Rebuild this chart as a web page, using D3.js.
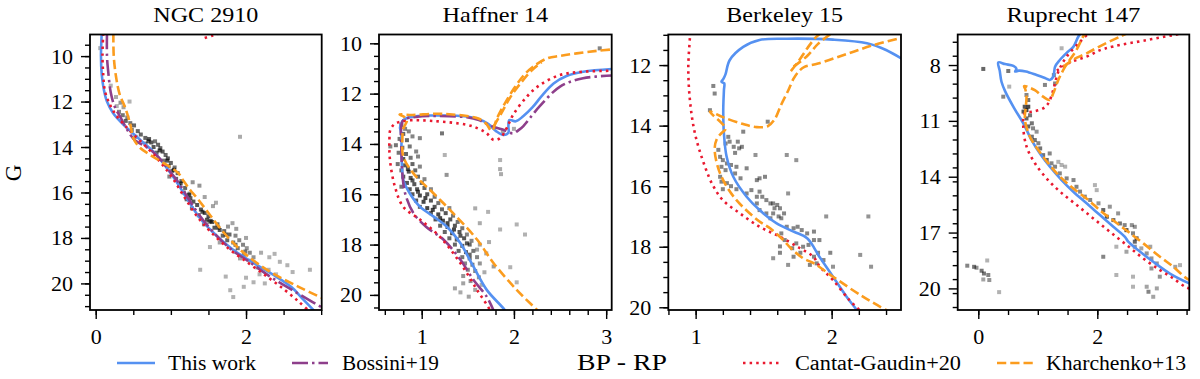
<!DOCTYPE html>
<html><head><meta charset="utf-8">
<script src="https://cdn.jsdelivr.net/npm/d3@7"></script>
</head><body style="margin:0;background:#fff">
<svg id="chart" width="1200" height="379" style="display:block"></svg>
<script>
// ---------------- DATA ----------------
const clusterNames = ["NGC 2910", "Haffner 14", "Berkeley 15", "Ruprecht 147"];
const seriesNames = ["This work", "Bossini+19", "Cantat-Gaudin+20", "Kharchenko+13"];

const xTicks_ngc2910 = [0, 2];
const yTicks_ngc2910 = [10, 12, 14, 16, 18, 20];
const xTicks_haffner14 = [1, 2, 3];
const yTicks_haffner14 = [10, 12, 14, 16, 18, 20];
const xTicks_berkeley15 = [1, 2];
const yTicks_berkeley15 = [12, 14, 16, 18, 20];
const xTicks_ruprecht147 = [0, 2];
const yTicks_ruprecht147 = [8, 11, 14, 17, 20];

// stars: [BP-RP, G, membership probability]
const stars_ngc2910 = [
[0.06,9.65,0.3],[0.20,11.3,0.3],[0.27,11.8,0.35],[0.33,12.05,0.5],[0.37,12.25,0.4],[0.31,12.45,0.6],[0.36,12.6,0.7],[0.42,12.7,0.6],[0.40,12.85,0.8],[0.46,12.95,0.7],[0.51,13.05,0.8],[0.48,13.25,0.7],[0.56,13.3,0.8],[0.60,13.45,0.8],[0.53,13.55,0.6],[0.66,13.6,0.8],[0.71,13.65,0.9],[0.74,13.8,0.9],[0.79,13.75,0.7],[0.83,13.9,0.8],[0.66,13.85,0.6],[0.77,14.0,0.9],[0.86,14.05,0.8],[0.89,14.2,0.9],[0.81,14.25,0.8],[0.93,14.35,0.8],[0.96,14.5,0.9],[0.90,14.6,0.7],[1.00,14.7,0.8],[0.97,14.85,0.8],[1.05,14.9,0.7],[1.02,15.05,0.8],[1.09,15.15,0.8],[0.98,15.3,0.6],[1.07,15.4,0.8],[1.14,15.5,0.8],[1.11,15.7,0.8],[1.19,15.8,0.8],[1.29,15.55,0.5],[1.38,15.7,0.5],[1.17,16.0,0.8],[1.24,16.1,0.9],[1.21,16.3,0.8],[1.30,16.4,0.9],[1.35,16.55,0.9],[1.28,16.7,0.7],[1.40,16.75,0.9],[1.45,16.9,0.9],[1.37,17.0,0.8],[1.50,17.05,0.9],[1.56,16.6,0.4],[1.60,16.45,0.35],[1.48,17.2,0.9],[1.55,17.3,0.9],[1.44,17.4,0.6],[1.62,17.4,0.8],[1.58,17.55,0.9],[1.65,17.65,0.9],[1.71,17.7,0.8],[1.76,17.5,0.5],[1.82,17.35,0.4],[1.87,17.6,0.45],[1.69,17.9,0.8],[1.78,17.85,0.8],[1.86,17.9,0.6],[1.75,18.1,0.8],[1.83,18.2,0.7],[1.91,18.1,0.6],[1.96,18.3,0.6],[1.89,18.45,0.7],[2.01,18.45,0.5],[2.05,18.65,0.6],[1.97,18.75,0.6],[2.10,18.85,0.5],[1.92,18.9,0.4],[2.05,19.0,0.45],[2.20,18.65,0.35],[2.31,18.85,0.3],[2.38,18.7,0.3],[2.45,19.05,0.3],[2.55,19.2,0.3],[2.30,19.4,0.3],[2.18,19.6,0.3],[2.62,19.5,0.3],[2.85,19.4,0.3],[1.39,19.4,0.3],[1.52,18.4,0.3],[1.73,19.7,0.3],[1.79,20.3,0.3],[1.83,20.6,0.3],[1.97,20.15,0.3],[2.10,19.95,0.3],[2.25,20.0,0.3],[2.00,19.75,0.3],[1.92,13.55,0.35],[1.25,16.05,0.5],[1.51,17.3,0.5],[1.45,16.2,0.4],[0.45,12.0,0.3],[0.28,12.2,0.3],[2.00,18.0,0.4],[1.85,18.6,0.4],[2.15,19.3,0.3],[2.40,19.6,0.25],[1.65,18.2,0.4],
[0.70,13.75,0.9],[0.85,14.15,0.9],[0.95,14.6,0.9],[1.04,15.0,0.9],[1.13,15.6,0.9],[1.26,16.25,0.9],[1.42,16.85,0.9],[1.53,17.25,0.9],[1.63,17.55,0.9],[1.73,17.85,0.9],[1.86,18.3,0.8],[1.99,18.6,0.7]
];
const stars_haffner14 = [
[0.78,13.25,0.7],[0.82,13.4,0.6],[0.80,13.6,0.8],[0.86,13.5,0.6],[0.76,13.8,0.7],[0.84,13.85,0.8],[0.90,13.7,0.6],[0.98,13.77,0.6],[0.66,14.1,0.6],[0.72,14.05,0.7],[0.79,14.15,0.8],[0.87,14.1,0.7],[0.94,14.3,0.6],[0.75,14.35,0.7],[0.83,14.4,0.8],[0.80,14.6,0.9],[0.88,14.55,0.7],[0.96,14.5,0.6],[0.74,14.8,0.7],[0.82,14.85,0.9],[0.90,14.8,0.8],[0.98,14.9,0.6],[0.78,15.05,0.8],[0.86,15.1,0.9],[0.93,15.05,0.8],[0.80,15.3,0.9],[0.88,15.35,0.9],[0.96,15.3,0.8],[1.03,15.4,0.6],[0.84,15.55,0.9],[0.92,15.6,0.9],[1.00,15.55,0.8],[0.78,15.7,0.7],[0.87,15.8,0.9],[0.95,15.8,0.9],[1.03,15.75,0.8],[1.10,15.8,0.6],[0.90,16.0,0.9],[0.98,16.05,1.0],[1.06,16.0,0.9],[1.14,16.1,0.7],[0.94,16.25,0.9],[1.02,16.3,1.0],[1.10,16.25,0.9],[1.18,16.35,0.7],[0.98,16.5,0.8],[1.06,16.55,1.0],[1.14,16.5,0.9],[1.22,16.6,0.8],[1.30,16.55,0.6],[1.10,16.75,0.9],[1.18,16.8,1.0],[1.26,16.75,0.9],[1.34,16.85,0.7],[1.15,17.0,0.9],[1.23,17.05,1.0],[1.31,17.0,0.9],[1.39,17.1,0.7],[1.20,17.25,0.8],[1.28,17.3,1.0],[1.36,17.25,0.9],[1.44,17.35,0.7],[1.25,17.5,0.8],[1.33,17.55,1.0],[1.41,17.5,0.9],[1.49,17.6,0.6],[1.30,17.75,0.8],[1.38,17.8,0.9],[1.46,17.75,0.9],[1.54,17.85,0.6],[1.36,18.0,0.8],[1.44,18.05,0.9],[1.52,18.0,0.8],[1.40,18.25,0.8],[1.48,18.3,0.9],[1.56,18.25,0.7],[1.44,18.5,0.7],[1.52,18.55,0.8],[1.60,18.5,0.6],[1.47,18.75,0.6],[1.55,18.8,0.7],[1.63,18.75,0.5],[1.50,19.0,0.6],[1.58,19.05,0.6],[1.45,19.25,0.5],[1.62,19.3,0.5],[1.53,19.45,0.5],[1.36,19.74,0.4],[1.45,19.54,0.4],[1.51,20.07,0.4],[1.58,19.8,0.4],[1.65,19.6,0.35],[1.42,19.9,0.35],
[2.93,10.2,0.6],[1.22,13.58,0.7],[1.25,14.44,0.3],[1.27,15.23,0.5],[1.85,14.64,0.3],[1.85,15.0,0.35],[1.86,15.2,0.35],[1.85,17.4,0.3],[2.03,17.2,0.3],[2.12,17.6,0.3],[1.58,16.56,0.35],[1.72,16.7,0.3],[1.63,17.15,0.35],[1.73,17.9,0.35],[1.96,18.9,0.3],[2.03,19.5,0.3],[1.78,18.87,0.45],[1.63,18.0,0.4],[1.70,18.35,0.4],[1.60,18.2,0.4],[1.68,19.1,0.35],[1.88,13.5,0.4],[2.00,13.4,0.35],
[0.85,15.0,0.9],[0.90,15.45,0.9],[0.96,15.9,0.9],[1.04,16.15,1.0],[1.12,16.62,1.0],[1.20,16.95,1.0],[1.28,17.15,1.0],[1.35,17.4,1.0],[1.42,17.65,0.9],[1.49,17.95,0.9],[1.52,18.4,0.8]
];
const stars_berkeley15 = [
[1.13,12.69,0.6],[1.14,12.94,0.6],[1.105,13.49,0.6],[1.53,13.87,0.6],[1.35,14.2,0.6],[1.24,14.37,0.6],[1.25,14.53,0.6],[1.28,14.7,0.6],[1.32,14.75,0.6],[1.29,14.9,0.6],[1.167,14.8,0.6],[1.18,15.03,0.6],[1.20,15.14,0.6],[1.23,15.25,0.6],[1.26,15.3,0.6],[1.30,15.36,0.6],[1.375,15.41,0.6],[1.44,14.97,0.5],[1.67,14.97,0.5],[1.74,15.14,0.5],[1.29,15.58,0.6],[1.33,15.74,0.6],[1.45,15.8,0.6],[1.47,15.74,0.6],[1.51,15.69,0.6],[1.23,15.9,0.6],[1.26,16.0,0.6],[1.30,16.1,0.6],[1.375,16.24,0.6],[1.41,16.13,0.6],[1.45,16.35,0.6],[1.47,16.18,0.6],[1.49,16.35,0.6],[1.52,16.46,0.6],[1.55,16.57,0.6],[1.57,16.57,0.6],[1.60,16.62,0.6],[1.58,16.73,0.6],[1.62,16.73,0.6],[1.57,16.9,0.6],[1.61,17.0,0.6],[1.63,17.06,0.6],[1.65,16.9,0.6],[1.55,17.06,0.6],[1.52,16.9,0.6],[1.47,16.79,0.6],[1.68,16.24,0.5],[1.45,16.57,0.6],[1.67,17.34,0.6],[1.72,17.39,0.6],[1.75,17.34,0.6],[1.78,17.45,0.6],[1.82,17.56,0.6],[1.87,17.5,0.6],[1.91,17.78,0.6],[1.87,17.78,0.6],[1.83,17.94,0.6],[1.79,18.0,0.6],[1.74,17.89,0.6],[1.71,18.05,0.6],[1.72,18.33,0.6],[1.77,18.2,0.6],[1.63,17.56,0.6],[1.655,17.78,0.6],[1.62,17.99,0.6],[1.57,18.38,0.5],[1.68,18.6,0.5],[1.84,18.6,0.6],[1.87,18.33,0.6],[1.90,18.2,0.6],[1.94,18.44,0.6],[1.99,18.2,0.6],[2.01,18.66,0.5],[1.96,17.0,0.5],[2.21,18.27,0.5],[2.27,17.0,0.5],[2.29,18.66,0.5],[1.62,18.2,0.6],[1.89,18.55,0.6],[1.18,15.69,0.6],[1.19,15.85,0.6],[1.20,16.1,0.6],[1.19,15.36,0.6],[1.22,15.47,0.6],[1.31,14.53,0.6],[1.34,14.7,0.6],[1.22,14.59,0.6]
];
const stars_ruprecht147 = [
[0.084,8.21,0.8],[0.504,8.32,0.7],[0.52,9.16,0.3],[0.42,9.7,0.6],[1.12,9.07,0.6],[1.29,8.99,0.6],[1.27,8.54,0.6],[1.40,7.1,0.3],[0.81,9.61,0.6],[0.84,9.88,0.7],[0.78,10.24,0.9],[0.84,10.24,1.0],[0.81,10.42,1.0],[0.76,10.5,0.9],[0.87,10.7,0.7],[0.81,10.87,0.8],[0.90,11.13,0.7],[0.84,11.3,0.8],[0.92,11.4,0.6],[0.98,11.58,0.5],[0.90,11.85,0.7],[0.95,12.03,0.7],[1.01,12.2,0.6],[1.04,12.48,0.7],[1.20,12.75,0.6],[1.09,12.84,0.7],[1.15,13.1,0.8],[1.23,13.28,0.6],[1.29,13.46,0.6],[1.345,13.2,0.3],[1.40,13.37,0.3],[1.46,13.46,0.3],[1.37,13.82,0.6],[1.485,14.09,0.6],[1.60,14.18,0.6],[1.65,14.54,0.6],[1.71,14.8,0.6],[1.96,14.45,0.3],[1.99,14.72,0.3],[1.79,15.07,0.6],[1.88,15.25,0.6],[2.02,15.43,0.5],[2.10,15.79,0.8],[2.21,15.61,0.5],[2.16,16.15,0.9],[2.27,16.33,0.8],[2.35,15.97,0.5],[2.38,16.51,0.7],[2.49,16.87,1.0],[2.46,16.6,0.6],[2.58,16.6,0.5],[2.63,16.69,0.5],[2.60,17.04,0.6],[2.66,17.31,0.9],[2.63,17.49,0.8],[2.32,17.76,0.3],[2.49,18.03,0.4],[2.63,17.76,0.5],[2.74,17.85,0.4],[2.89,17.76,0.4],[2.83,18.12,0.5],[2.91,18.39,0.5],[3.00,18.66,0.5],[2.91,18.93,0.5],[3.05,19.37,0.5],[2.60,19.37,0.3],[2.32,19.28,0.3],[2.83,19.91,0.4],[2.86,20.18,0.6],[3.00,20.0,0.4],[2.94,20.45,0.4],[3.31,18.84,0.4],[3.39,18.75,0.3],[2.60,19.91,0.3],[2.10,18.3,0.6],
[-0.185,18.78,0.6],[-0.07,18.84,0.7],[-0.03,18.89,0.5],[0.056,19.05,0.7],[0.095,19.2,0.7],[0.168,19.28,0.6],[0.084,19.52,0.4],[0.185,19.55,0.5],[0.15,18.5,0.3],[0.35,20.2,0.3]
];

// isochrones: [BP-RP, G]
const thisWork_ngc2910 = [[0.08,9.0],[0.07,10.0],[0.08,10.8],[0.11,11.5],[0.15,12.0],[0.23,12.5],[0.38,13.05],[0.58,13.65],[0.78,14.25],[0.93,14.85],[1.06,15.45],[1.21,16.25],[1.38,17.1],[1.56,17.75],[1.82,18.5],[2.10,19.1],[2.40,19.7],[2.60,20.15],[2.76,20.7],[2.92,21.25]];
const bossini_ngc2910 = [[0.15,9.0],[0.15,10.0],[0.17,10.8],[0.20,11.6],[0.25,12.2],[0.33,12.7],[0.43,13.3],[0.52,13.7],[0.62,13.9],[0.72,14.1],[0.85,14.5],[0.97,15.0],[1.10,15.55],[1.22,16.2],[1.38,17.0],[1.58,17.8],[1.80,18.5],[2.02,19.0],[2.32,19.7],[2.62,20.3],[2.98,21.0],[3.10,21.2]];
const cantat_ngc2910 = [[0.10,9.0],[0.09,10.0],[0.10,10.8],[0.12,11.5],[0.17,12.0],[0.25,12.5],[0.36,12.95],[0.52,13.5],[0.72,14.15],[0.88,14.75],[1.02,15.35],[1.17,16.15],[1.35,17.05],[1.52,17.7],[1.78,18.5],[2.05,19.15],[2.30,19.75],[2.52,20.3],[2.70,20.8],[2.85,21.25]];
const cantatGiant_ngc2910 = [[1.45,9.2],[1.55,9.1],[1.70,8.95]];
const kharchenko_ngc2910 = [[0.235,9.0],[0.24,10.0],[0.27,10.9],[0.32,11.7],[0.39,12.25],[0.46,13.0],[0.50,13.6],[0.58,14.0],[0.75,14.4],[0.95,14.8],[1.10,15.15],[1.17,15.5],[1.26,15.9],[1.35,16.25],[1.50,16.9],[1.70,17.75],[1.95,18.6],[2.30,19.45],[2.70,20.15],[3.05,20.7]];

const thisWork_haffner14 = [[1.93,20.8],[1.90,20.6],[1.705,19.8],[1.56,18.87],[1.42,17.95],[1.27,17.28],[1.13,16.89],[0.98,16.49],[0.87,15.96],[0.80,15.43],[0.785,14.8],[0.78,14.2],[0.78,13.7],[0.77,13.45],[0.765,13.35],[0.79,13.1],[0.84,12.97],[1.0,12.88],[1.13,12.87],[1.30,12.87],[1.49,12.91],[1.62,13.02],[1.72,13.2],[1.81,13.5],[1.886,13.64],[1.94,13.55],[1.94,13.3],[1.95,13.05],[2.02,13.1],[2.10,12.9],[2.20,12.55],[2.30,12.1],[2.43,11.6],[2.57,11.3],[2.75,11.13],[3.07,11.02]];
const bossini_haffner14 = [[1.80,20.8],[1.705,20.07],[1.56,19.4],[1.42,18.6],[1.235,17.8],[1.05,17.3],[0.91,16.75],[0.82,15.96],[0.79,15.17],[0.78,14.24],[0.776,13.44],[0.80,13.05],[0.95,12.92],[1.127,12.89],[1.30,12.9],[1.49,12.94],[1.62,13.05],[1.705,13.2],[1.80,13.35],[1.886,13.44],[1.99,13.58],[2.05,13.45],[2.10,13.3],[2.20,12.85],[2.28,12.5],[2.50,11.72],[2.75,11.39],[3.07,11.28]];
const cantat_haffner14 = [[1.76,20.8],[1.74,20.6],[1.60,19.8],[1.42,18.74],[1.20,17.7],[0.98,17.0],[0.80,16.5],[0.71,15.7],[0.656,14.64],[0.65,13.84],[0.66,13.44],[0.71,13.2],[0.84,13.07],[1.13,13.09],[1.49,13.24],[1.62,13.4],[1.705,13.58],[1.78,13.84],[1.85,13.77],[1.92,13.38],[1.99,12.85],[2.14,12.12],[2.28,11.66],[2.50,11.26],[2.75,11.13],[3.07,11.09]];
const kharchenko_haffner14 = [[2.30,20.8],[2.25,20.6],[2.03,19.8],[1.78,18.74],[1.60,17.8],[1.34,16.75],[1.127,15.96],[0.91,15.17],[0.80,14.5],[0.79,13.9],[0.80,13.4],[0.84,13.05],[0.80,12.9],[0.76,12.83],[0.90,12.85],[1.13,12.8],[1.30,12.82],[1.49,12.89],[1.62,13.0],[1.70,13.2],[1.76,13.48],[1.82,12.95],[1.90,12.4],[2.00,11.8],[2.10,11.3],[2.20,10.95],[2.36,10.6],[2.50,10.5],[2.68,10.4],[2.90,10.3],[3.07,10.24]];
const kharchenkoBranch_haffner14 = [[1.78,13.3],[1.86,12.8],[1.96,12.15],[2.08,11.55],[2.20,11.05],[2.30,10.75]];

const thisWork_berkeley15 = [[2.20,20.2],[2.184,20.09],[2.11,19.65],[2.01,18.99],[1.91,18.33],[1.82,17.72],[1.72,17.5],[1.596,17.23],[1.47,16.79],[1.375,16.35],[1.277,15.69],[1.228,15.03],[1.208,14.26],[1.203,13.49],[1.208,12.83],[1.21,12.6],[1.19,12.55],[1.205,12.45],[1.22,12.3],[1.25,11.84],[1.35,11.4],[1.47,11.17],[1.67,11.13],[2.01,11.16],[2.26,11.28],[2.40,11.5],[2.52,11.8]];
const cantat_berkeley15 = [[0.958,10.9],[0.958,11.06],[0.946,12.06],[0.958,13.16],[0.995,14.26],[1.069,15.36],[1.13,16.0],[1.20,16.46],[1.326,16.9],[1.47,17.34],[1.62,17.67],[1.767,18.05],[1.865,18.33],[1.914,18.66],[2.01,19.1],[2.13,19.76],[2.23,20.2]];
const kharchenko_berkeley15 = [[2.45,20.2],[2.40,20.09],[2.23,19.65],[2.01,18.99],[1.87,18.55],[1.79,18.38],[1.70,18.05],[1.645,17.78],[1.55,17.4],[1.45,17.1],[1.28,16.35],[1.18,15.58],[1.14,14.8],[1.155,14.45],[1.19,14.25],[1.22,14.1],[1.105,13.54],[1.20,13.72],[1.35,13.95],[1.45,14.05],[1.53,14.02],[1.58,13.8],[1.63,13.3],[1.68,12.85],[1.72,12.45],[1.76,12.2],[1.80,12.06],[1.90,11.95],[2.10,11.65],[2.30,11.35],[2.51,11.1],[2.60,11.0]];
const kharchenkoBranch_berkeley15 = [[1.70,12.2],[1.76,11.85],[1.82,11.45],[1.88,11.1],[1.92,10.95]];
const kharchenkoBranch2_berkeley15 = [[1.72,12.05],[1.82,11.7],[1.90,11.3],[1.99,10.98]];

const thisWork_ruprecht147 = [[3.60,19.8],[3.546,19.73],[3.22,19.2],[2.94,18.57],[2.72,18.03],[2.52,17.49],[2.465,17.23],[2.27,16.69],[2.045,16.06],[1.82,15.43],[1.597,14.81],[1.40,14.18],[1.204,13.46],[1.036,12.75],[0.896,12.03],[0.756,11.13],[0.60,10.3],[0.45,9.4],[0.39,8.9],[0.36,8.3],[0.336,7.86],[0.45,7.95],[0.59,8.05],[0.64,8.2],[0.62,8.35],[0.68,8.3],[0.80,8.35],[0.98,8.54],[1.12,8.7],[1.20,8.8],[1.26,8.63],[1.29,8.09],[1.37,7.73],[1.50,7.3],[1.60,7.01],[1.68,6.48],[1.72,6.3]];
const cantat_ruprecht147 = [[3.55,20.0],[3.473,19.91],[3.277,19.46],[3.053,19.02],[2.773,18.39],[2.493,17.67],[2.213,16.96],[1.933,16.24],[1.653,15.52],[1.373,14.8],[1.148,14.09],[0.952,13.28],[0.812,12.39],[0.756,11.31],[0.78,10.6],[0.92,10.5],[1.09,10.33],[1.176,10.06],[1.26,9.34],[1.345,8.36],[1.485,7.55],[1.71,6.75],[1.85,6.3]];
const cantatBranch_ruprecht147 = [[1.32,8.3],[1.55,7.85],[1.82,7.55],[2.05,7.2],[2.27,7.0],[2.83,6.66],[3.28,6.39],[3.50,6.25]];
const kharchenko_ruprecht147 = [[3.60,19.6],[3.50,19.46],[3.277,18.84],[3.053,18.3],[2.773,17.58],[2.52,16.96],[2.297,16.42],[2.073,15.88],[1.849,15.25],[1.597,14.63],[1.373,14.0],[1.176,13.28],[1.008,12.57],[0.868,11.85],[0.784,10.96],[0.80,10.2],[0.81,9.7],[0.79,9.3],[0.77,9.13],[0.85,9.2],[0.95,9.35],[1.09,9.7],[1.20,9.88],[1.26,9.52],[1.345,8.8],[1.46,8.09],[1.65,7.19],[1.76,6.48],[1.80,6.3]];
const kharchenkoBranch_ruprecht147 = [[1.43,8.09],[1.60,7.7],[1.82,7.37],[2.10,6.9],[2.38,6.48],[2.50,6.3]];

// ---------------- LAYOUT / STYLE ----------------
const TOP = 34.5, BOTTOM = 310;
const FONT = "'Liberation Serif'";
const style = {
  "This work":        {color:"#5591f1", dash:null},
  "Bossini+19":       {color:"#8e3f8b", dash:"16,4,2.5,4"},
  "Cantat-Gaudin+20": {color:"#e9192f", dash:"2.5,4.1"},
  "Kharchenko+13":    {color:"#fb9c1e", dash:"9.25,4"}
};

const panels = [
  {title:clusterNames[0], tw:105, left:90, right:321.7, xDom:[-0.076,3.007], yDom:[9.05,21.17],
   xTicks:xTicks_ngc2910, xMinor:0.5, yTicks:yTicks_ngc2910, yMinor:0.5, stars:stars_ngc2910,
   lines:[["This work",thisWork_ngc2910],["Bossini+19",bossini_ngc2910],["Cantat-Gaudin+20",cantat_ngc2910],["Cantat-Gaudin+20",cantatGiant_ngc2910],["Kharchenko+13",kharchenko_ngc2910]]},
  {title:clusterNames[1], tw:105.6, left:379, right:611.7, xDom:[0.537,3.06], yDom:[9.65,20.6],
   xTicks:xTicks_haffner14, xMinor:0.2, yTicks:yTicks_haffner14, yMinor:0.5, stars:stars_haffner14,
   lines:[["This work",thisWork_haffner14],["Bossini+19",bossini_haffner14],["Cantat-Gaudin+20",cantat_haffner14],["Kharchenko+13",kharchenko_haffner14],["Kharchenko+13",kharchenkoBranch_haffner14]]},
  {title:clusterNames[2], tw:116.7, left:668.3, right:901, xDom:[0.799,2.51], yDom:[10.99,20.09],
   xTicks:xTicks_berkeley15, xMinor:0.2, yTicks:yTicks_berkeley15, yMinor:0.5, stars:stars_berkeley15,
   lines:[["This work",thisWork_berkeley15],["Cantat-Gaudin+20",cantat_berkeley15],["Kharchenko+13",kharchenko_berkeley15],["Kharchenko+13",kharchenkoBranch_berkeley15],["Kharchenko+13",kharchenkoBranch2_berkeley15]]},
  {title:clusterNames[3], tw:134, left:957.7, right:1189.3, xDom:[-0.346,3.546], yDom:[6.36,21.16],
   xTicks:xTicks_ruprecht147, xMinor:0.5, yTicks:yTicks_ruprecht147, yMinor:0.75, stars:stars_ruprecht147,
   lines:[["This work",thisWork_ruprecht147],["Cantat-Gaudin+20",cantat_ruprecht147],["Cantat-Gaudin+20",cantatBranch_ruprecht147],["Kharchenko+13",kharchenko_ruprecht147],["Kharchenko+13",kharchenkoBranch_ruprecht147]]}
];

const svg = d3.select("#chart");
const alpha = d3.scaleLinear().domain([0,1]).range([0.12,0.72]);

function minorRange(dom, step){
  const lo = Math.min(dom[0],dom[1]), hi = Math.max(dom[0],dom[1]);
  const out = [];
  for (let k = Math.ceil(lo/step - 1e-9); k*step <= hi + 1e-9; k++) out.push(+(k*step).toFixed(6));
  return out;
}
function serif(sel, size){ return sel.style("font-family", FONT).style("font-size", size + "px").attr("fill", "#000"); }

panels.forEach((p, i) => {
  const x = d3.scaleLinear().domain(p.xDom).range([p.left, p.right]);
  const y = d3.scaleLinear().domain(p.yDom).range([TOP, BOTTOM]);
  const g = svg.append("g");
  const cid = "clip" + i;
  g.append("clipPath").attr("id", cid).append("rect")
    .attr("x", p.left).attr("y", TOP).attr("width", p.right - p.left).attr("height", BOTTOM - TOP);

  const plot = g.append("g").attr("clip-path", `url(#${cid})`);
  plot.selectAll("rect.star").data(p.stars).join("rect").attr("class","star")
    .attr("x", d => x(d[0]) - 2).attr("y", d => y(d[1]) - 2)
    .attr("width", 4).attr("height", 4)
    .attr("fill", "#000").attr("fill-opacity", d => alpha(d[2]));

  const line = d3.line().x(d => x(d[0])).y(d => y(d[1])).curve(d3.curveCatmullRom.alpha(0.5));
  p.lines.forEach(([name, pts]) => {
    const s = style[name];
    plot.append("path").attr("d", line(pts)).attr("fill","none")
      .attr("stroke", s.color).attr("stroke-width", 2.6)
      .attr("stroke-dasharray", s.dash).attr("stroke-linejoin","round");
  });

  const xAxis = d3.axisBottom(x).tickValues(p.xTicks).tickSize(9).tickPadding(9).tickFormat(d3.format("d"));
  const xMinorAxis = d3.axisBottom(x).tickValues(minorRange(p.xDom, p.xMinor)).tickSize(5).tickFormat("");
  const yAxis = d3.axisLeft(y).tickValues(p.yTicks).tickSize(9).tickPadding(8).tickFormat(d3.format("d"));
  const yMinorAxis = d3.axisLeft(y).tickValues(minorRange(p.yDom, p.yMinor)).tickSize(5).tickFormat("");

  [xMinorAxis, xAxis].forEach(ax => {
    const a = g.append("g").attr("transform", `translate(0,${BOTTOM})`).call(ax);
    a.select(".domain").remove();
    a.selectAll("line").attr("stroke","#000").attr("stroke-width",1.4);
    serif(a.selectAll("text"), 22);
  });
  [yMinorAxis, yAxis].forEach(ax => {
    const a = g.append("g").attr("transform", `translate(${p.left},0)`).call(ax);
    a.select(".domain").remove();
    a.selectAll("line").attr("stroke","#000").attr("stroke-width",1.4);
    serif(a.selectAll("text"), 22);
  });

  g.append("rect").attr("x", p.left).attr("y", TOP).attr("width", p.right - p.left).attr("height", BOTTOM - TOP)
    .attr("fill","none").attr("stroke","#000").attr("stroke-width",1.8);

  serif(g.append("text"), 22).attr("x", (p.left + p.right)/2).attr("y", 22).attr("text-anchor","middle")
    .attr("textLength", p.tw).attr("lengthAdjust","spacingAndGlyphs").text(p.title);
});

serif(svg.append("text"), 23).attr("transform","translate(21,173) rotate(-90)").attr("text-anchor","middle").text("G");
serif(svg.append("text"), 23).attr("x",622).attr("y",370).attr("text-anchor","middle")
  .attr("textLength",90).attr("lengthAdjust","spacingAndGlyphs").text("BP - RP");

const legendItems = [
  {name:seriesNames[0], x0:117, x1:155, tx:168, tw:88},
  {name:seriesNames[1], x0:292, x1:328, tx:342, tw:97},
  {name:seriesNames[2], x0:743, x1:780, tx:795, tw:166},
  {name:seriesNames[3], x0:997, x1:1033, tx:1046, tw:140}
];
const lg = svg.append("g");
legendItems.forEach(it => {
  const s = style[it.name];
  lg.append("line").attr("x1",it.x0).attr("x2",it.x1).attr("y1",363).attr("y2",363)
    .attr("stroke",s.color).attr("stroke-width",2.6).attr("stroke-dasharray",s.dash);
  serif(lg.append("text"), 20).attr("x",it.tx).attr("y",370)
    .attr("textLength",it.tw).attr("lengthAdjust","spacingAndGlyphs").text(it.name);
});
</script>
</body></html>
